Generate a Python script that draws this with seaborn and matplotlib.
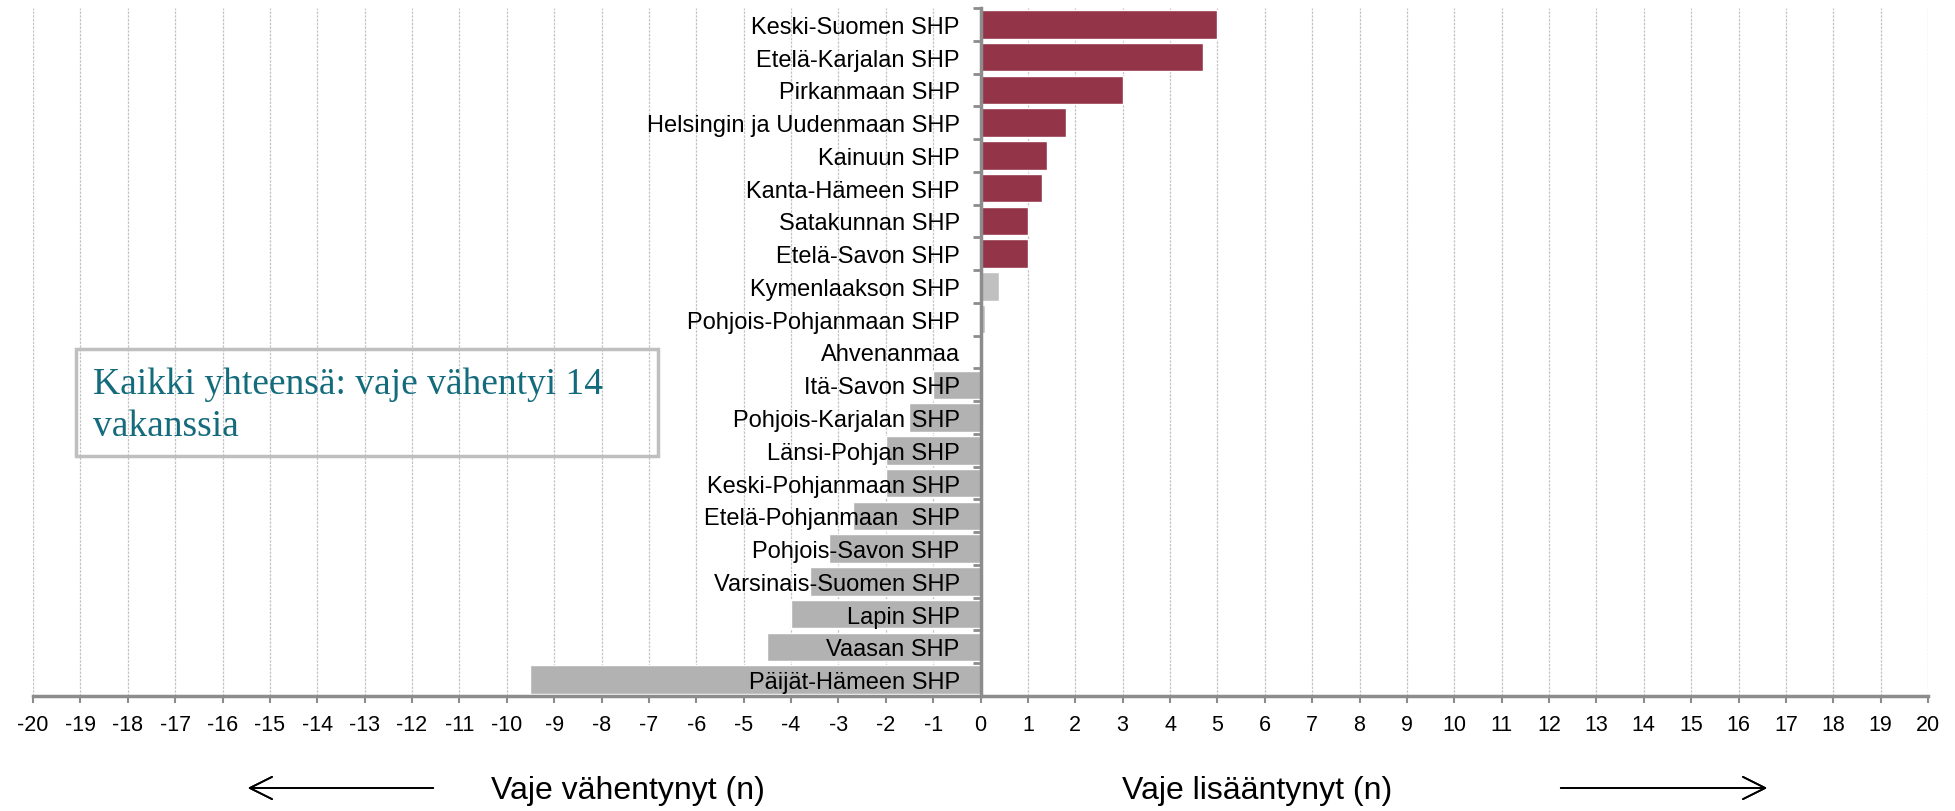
import numpy as np
import pandas as pd
import matplotlib
matplotlib.use("Agg")
from matplotlib import pyplot as plt
from matplotlib.patches import Rectangle
from matplotlib.ticker import MultipleLocator, FixedLocator
import seaborn as sns

# Vaje (vakanssit), muutos per sairaanhoitopiiri
regions = ["Keski-Suomen SHP", "Etelä-Karjalan SHP", "Pirkanmaan SHP",
           "Helsingin ja Uudenmaan SHP", "Kainuun SHP", "Kanta-Hämeen SHP",
           "Satakunnan SHP", "Etelä-Savon SHP", "Kymenlaakson SHP",
           "Pohjois-Pohjanmaan SHP", "Ahvenanmaa", "Itä-Savon SHP",
           "Pohjois-Karjalan SHP", "Länsi-Pohjan SHP", "Keski-Pohjanmaan SHP",
           "Etelä-Pohjanmaan  SHP", "Pohjois-Savon SHP", "Varsinais-Suomen SHP",
           "Lapin SHP", "Vaasan SHP", "Päijät-Hämeen SHP"]
change = [5.0, 4.7, 3.0, 1.8, 1.4, 1.3, 1.0, 1.0, 0.4, 0.1, 0.0,
          -1.0, -1.5, -2.0, -2.0, -2.7, -3.2, -3.6, -4.0, -4.5, -9.5]

df = pd.DataFrame({"Alue": regions, "Muutos": change})

# colour by size of change
colors = ["#943449" if v >= 1 else ("#C0C0C0" if v > 0 else "#B2B2B2") for v in change]

sns.set_style("white")
plt.rcParams["font.family"] = ["Liberation Sans", "DejaVu Sans"]
plt.rcParams["text.color"] = "black"
plt.rcParams["xtick.labelcolor"] = "black"
plt.rcParams["ytick.labelcolor"] = "black"

fig = plt.figure(figsize=(19.55, 8.12), dpi=100)
W, H = 1955, 812
ax = fig.add_axes([33 / W, 1 - 697 / H, 1895 / W, 688 / H])

sns.barplot(data=df, x="Muutos", y="Alue", hue="Alue", palette=colors,
            legend=False, width=0.87, saturation=1, ax=ax)

ax.set_xlim(-20, 20)
ax.set_ylim(20.5, -0.5)
ax.set_xlabel("")
ax.set_ylabel("")

# grid behind bars, y labels on top of bars
ax.set_axisbelow(True)
ax.yaxis.set_zorder(5)
ax.xaxis.set_major_locator(MultipleLocator(1))
ax.grid(axis="x", color="#C4C4C4", linestyle=(0, (2, 1)), linewidth=0.9)
ax.grid(axis="y", visible=False)

grey = "#8C8C8C"
for s in ["top", "right"]:
    ax.spines[s].set_visible(False)
ax.spines["left"].set_position(("data", 0))
ax.spines["left"].set_color(grey)
ax.spines["left"].set_linewidth(2.5)
ax.spines["left"].set_zorder(6)
ax.spines["bottom"].set_color(grey)
ax.spines["bottom"].set_linewidth(2.5)

ax.set_xticks(range(-20, 21))
ax.set_xticklabels([str(i) for i in range(-20, 21)])
ax.tick_params(axis="x", direction="out", length=5, width=1.5, color=grey,
               labelsize=15.5, pad=8, bottom=True, labelcolor="black")

ax.tick_params(axis="y", which="major", length=0, pad=15, labelsize=17,
               left=True, labelcolor="black")
ax.yaxis.set_minor_locator(FixedLocator(np.arange(-0.5, 21, 1)))
ax.tick_params(axis="y", which="minor", direction="out", length=6, width=2,
               color=grey, left=True)

# yhteensä-laatikko
fig.add_artist(Rectangle((76 / W, 1 - 457 / H), (658 - 76) / W, (457 - 350) / H,
                         transform=fig.transFigure, fill=False,
                         edgecolor="#BFBFBF", linewidth=2.5))
fig.text(93 / W, 1 - 406 / H, "Kaikki yhteensä: vaje vähentyi 14\nvakanssia",
         family=["Liberation Serif", "DejaVu Serif"], fontsize=27,
         color="#136B7B", ha="left", va="center", linespacing=1.28)

# suunta-tekstit ja nuolet
fig.text(628 / W, 1 - 791 / H, "Vaje vähentynyt (n)", fontsize=23,
         ha="center", va="center")
fig.text(1257 / W, 1 - 791 / H, "Vaje lisääntynyt (n)", fontsize=23,
         ha="center", va="center")
arrow = dict(arrowstyle="->,head_length=0.8,head_width=0.4", color="black",
             lw=1.3, mutation_scale=20)
fig.add_artist(plt.annotate("", xy=(245 / W, 1 - 789 / H), xytext=(436 / W, 1 - 789 / H),
                            xycoords="figure fraction", textcoords="figure fraction",
                            arrowprops=arrow))
fig.add_artist(plt.annotate("", xy=(1770 / W, 1 - 789 / H), xytext=(1558 / W, 1 - 789 / H),
                            xycoords="figure fraction", textcoords="figure fraction",
                            arrowprops=arrow))

plt.savefig("out.png", dpi=100)
